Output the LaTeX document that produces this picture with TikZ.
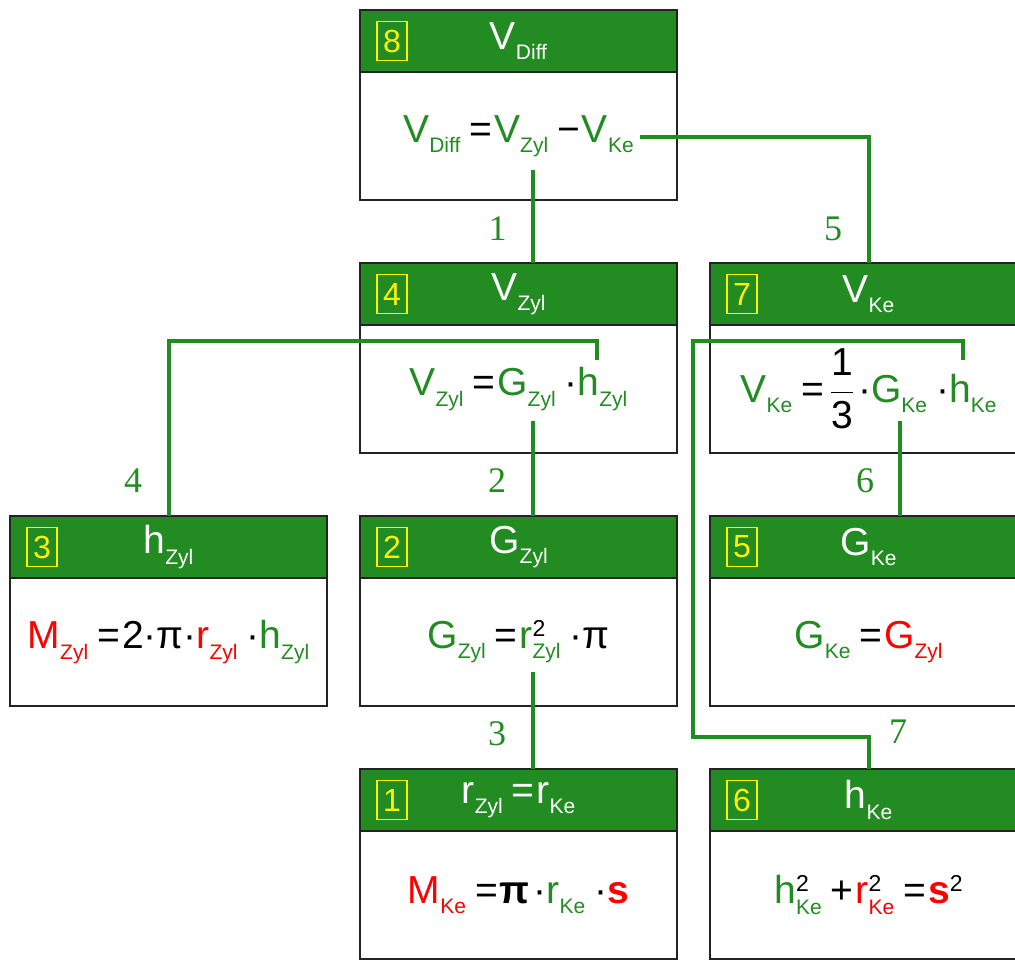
\RequirePackage{fix-cm}
\documentclass[tikz,border=0pt]{standalone}
\usepackage{fontspec}
\setmainfont{Liberation Sans}
\newfontfamily\labelfont{Liberation Serif}
\usepackage{xcolor}
\usepackage{tikz}
\usetikzlibrary{positioning, calc}

\definecolor{leaf}{RGB}{34,139,34}
\definecolor{hot}{RGB}{255,0,0}
\definecolor{edge}{RGB}{35,35,35}

\newcommand{\sbs}[1]{\raisebox{-0.26em}{\fontsize{21}{21}\selectfont #1}}
\newcommand{\sps}[1]{\raisebox{0.31em}{\fontsize{23}{23}\selectfont #1}}
\newcommand{\grn}[1]{\textcolor{leaf}{#1}}
\newcommand{\rdn}[1]{\textcolor{hot}{#1}}
\newcommand{\gap}{\kern9pt}% after a subscript
\newcommand{\tie}{\kern2pt}% after an operator

\begin{document}
\begin{tikzpicture}[x=1pt, y=-1pt,
    headbox/.style={draw=edge, line width=1.5pt, fill=leaf, minimum width=317pt, minimum height=62pt,
        inner sep=0pt, outer sep=0pt, text=white, font=\fontsize{39}{44}\selectfont},
    bodybox/.style={draw=edge, line width=1.5pt, fill=white, minimum width=317pt, minimum height=128pt,
        inner sep=0pt, outer sep=0pt, font=\fontsize{39}{44}\selectfont},
    numbox/.style={draw=yellow, line width=1.5pt, text=yellow, minimum width=30pt, minimum height=39pt,
        inner sep=0pt, outer sep=0pt, font=\fontsize{32}{32}\selectfont},
    link/.style={draw=leaf, line width=4pt},
    steplabel/.style={text=leaf, font=\labelfont\fontsize{36}{36}\selectfont}
]
\useasboundingbox (0,0) rectangle (1015,961);
\clip (0,0) rectangle (1015,961);

% Boxes
\node[headbox] (h8) at (518.5,41) {V\sbs{Diff}};
\node[bodybox, below=0pt of h8] (b8) {\grn{V\sbs{Diff}}\gap=\tie\grn{V\sbs{Zyl}}\gap−\tie\grn{V\sbs{Ke}}};

\node[headbox, below=63pt of b8] (h4) {V\sbs{Zyl}};
\node[bodybox, below=0pt of h4] (b4) {\grn{V\sbs{Zyl}}\gap=\tie\grn{G\sbs{Zyl}}\gap·\grn{h\sbs{Zyl}}};

\node[headbox, right=33pt of h4] (h7) {V\sbs{Ke}};
\node[bodybox, below=0pt of h7] (b7) {\grn{V\sbs{Ke}}\gap=\kern6pt$\displaystyle\frac{\mbox{1}}{\mbox{3}}$\kern4pt·\grn{G\sbs{Ke}}\gap·\grn{h\sbs{Ke}}};

\node[headbox, below=63pt of b4] (h2) {G\sbs{Zyl}};
\node[bodybox, below=0pt of h2] (b2) {\grn{G\sbs{Zyl}}\gap=\tie\grn{r}\makebox[0pt][l]{\sps{2}}\grn{\sbs{Zyl}}\gap·π};

\node[headbox, left=33pt of h2] (h3) {h\sbs{Zyl}};
\node[bodybox, below=0pt of h3] (b3) {\rdn{M\sbs{Zyl}}\gap=\tie 2·π·\rdn{r\sbs{Zyl}}\gap·\grn{h\sbs{Zyl}}};

\node[headbox, right=33pt of h2] (h5) {G\sbs{Ke}};
\node[bodybox, below=0pt of h5] (b5) {\grn{G\sbs{Ke}}\gap=\tie\rdn{G\sbs{Zyl}}};

\node[headbox, below=63pt of b2] (h1) {r\sbs{Zyl}\gap=\tie r\sbs{Ke}};
\node[bodybox, below=0pt of h1] (b1) {\rdn{M\sbs{Ke}}\gap=\tie\textbf{π}\kern4pt·\grn{r\sbs{Ke}}\gap·\rdn{\textbf{s}}};

\node[headbox, right=33pt of h1] (h6) {h\sbs{Ke}};
\node[bodybox, below=0pt of h6] (b6) {\grn{h}\makebox[0pt][l]{\sps{2}}\grn{\sbs{Ke}}\gap+\tie\rdn{r}\makebox[0pt][l]{\sps{2}}\rdn{\sbs{Ke}}\gap=\tie\rdn{\textbf{s}}\sps{2}};

% Step numbers
\node[numbox, right=17pt of h8.west] (k8) {8};
\node[numbox, right=17pt of h4.west] (k4) {4};
\node[numbox, right=17pt of h7.west] (k7) {7};
\node[numbox, right=17pt of h3.west] (k3) {3};
\node[numbox, right=17pt of h2.west] (k2) {2};
\node[numbox, right=17pt of h5.west] (k5) {5};
\node[numbox, right=17pt of h1.west] (k1) {1};
\node[numbox, right=17pt of h6.west] (k6) {6};

% Hooks in the formulas
\coordinate (vzyl8) at ($(b8.center)+(14.5,34)$);
\coordinate (vke8) at ($(b8.center)+(121.5,1)$);
\coordinate (hzyl4) at ($(b4.center)+(78.5,-29.5)$);
\coordinate (gzyl4) at ($(b4.center)+(14.5,31.5)$);
\coordinate (hke7) at ($(b7.center)+(94.5,-29.5)$);
\coordinate (gke7) at ($(b7.center)+(31.5,31.5)$);
\coordinate (rzyl2) at ($(b2.center)+(14.5,30)$);
\coordinate (turn7) at ([xshift=-17pt, yshift=32pt]h6.north west);

% Connectors
\draw[link] (vzyl8) -- (vzyl8 |- h4.north);
\draw[link] (vke8) -| (h7.north);
\draw[link] (hzyl4) -- ++(0,-19) -| (h3.north);
\draw[link] (gzyl4) -- (gzyl4 |- h2.north);
\draw[link] (gke7) -- (gke7 |- h5.north);
\draw[link] (rzyl2) -- (rzyl2 |- h1.north);
\draw[link] (hke7) -- ++(0,-19) -| (turn7) -| (h6.north);

% Order labels
\node[steplabel] (n1) at ([xshift=-21pt, yshift=34pt]h4.north) {1};
\node[steplabel] (n5) at ([xshift=-35.5pt, yshift=34pt]h7.north) {5};
\node[steplabel] (n4) at ([xshift=-35.5pt, yshift=35pt]h3.north) {4};
\node[steplabel] (n2) at ([xshift=-21.5pt, yshift=35pt]h2.north) {2};
\node[steplabel] (n6) at ([xshift=-3.5pt, yshift=35pt]h5.north) {6};
\node[steplabel] (n3) at ([xshift=-21.5pt, yshift=35pt]h1.north) {3};
\node[steplabel] (n7) at ([xshift=29.5pt, yshift=37pt]h6.north) {7};

\end{tikzpicture}
\end{document}
